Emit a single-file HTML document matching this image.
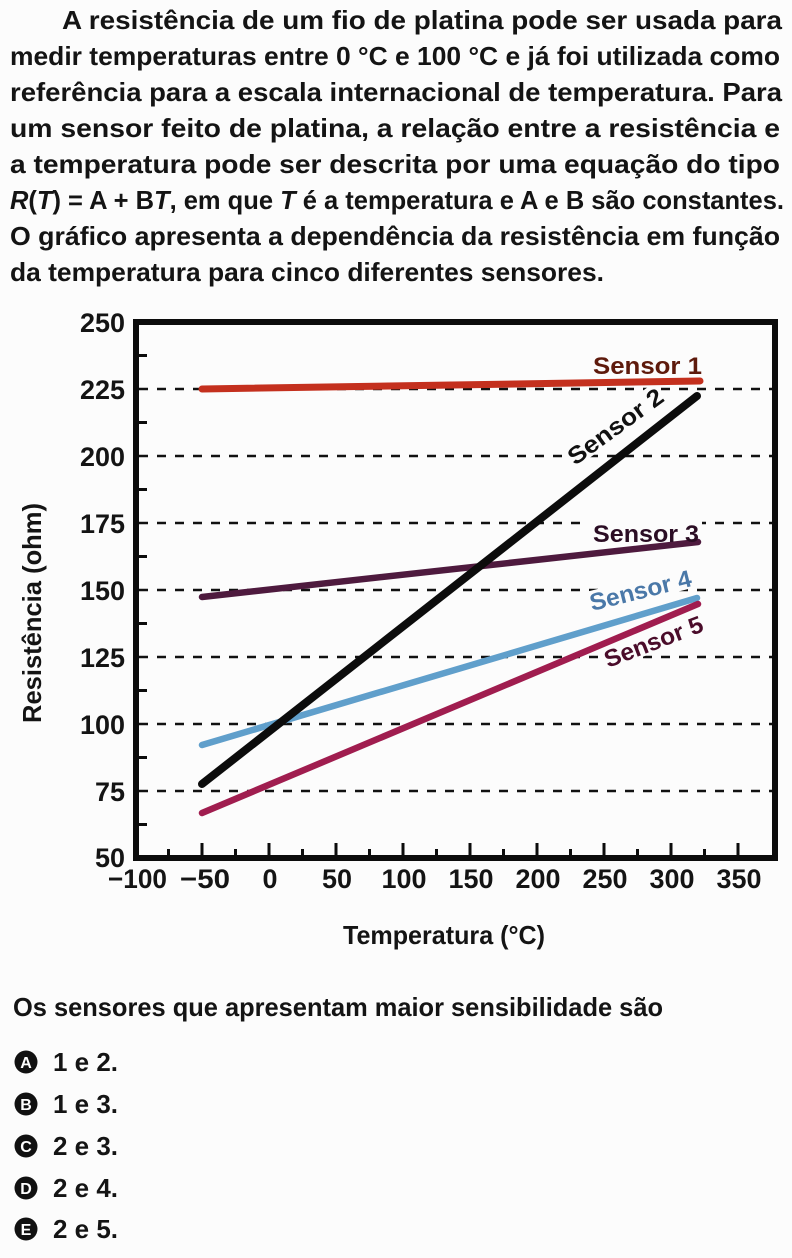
<!DOCTYPE html>
<html><head><meta charset="utf-8"><style>
html,body{margin:0;padding:0;background:#fcfcfc;}
svg{display:block;}
text{font-family:"Liberation Sans",sans-serif;}
</style></head><body>
<svg width="792" height="1258" viewBox="0 0 792 1258" xmlns="http://www.w3.org/2000/svg">
<rect x="0" y="0" width="792" height="1258" fill="#fcfcfc"/>
<g font-weight="bold" font-size="26" fill="#141414">
<text x="62" y="29" textLength="720" lengthAdjust="spacingAndGlyphs">A resistência de um fio de platina pode ser usada para</text>
<text x="10" y="65" textLength="770" lengthAdjust="spacingAndGlyphs">medir temperaturas entre 0 °C e 100 °C e já foi utilizada como</text>
<text x="10" y="101" textLength="772" lengthAdjust="spacingAndGlyphs">referência para a escala internacional de temperatura. Para</text>
<text x="10" y="137" textLength="770" lengthAdjust="spacingAndGlyphs">um sensor feito de platina, a relação entre a resistência e</text>
<text x="10" y="173" textLength="770" lengthAdjust="spacingAndGlyphs">a temperatura pode ser descrita por uma equação do tipo</text>
<text x="10" y="209" textLength="774" lengthAdjust="spacingAndGlyphs"><tspan font-style="italic">R</tspan>(<tspan font-style="italic">T</tspan>) = A + B<tspan font-style="italic">T</tspan>, em que <tspan font-style="italic">T</tspan> é a temperatura e A e B são constantes.</text>
<text x="10" y="245" textLength="770" lengthAdjust="spacingAndGlyphs">O gráfico apresenta a dependência da resistência em função</text>
<text x="10" y="281" textLength="594" lengthAdjust="spacingAndGlyphs">da temperatura para cinco diferentes sensores.</text>
</g>

<!-- gridlines -->
<g stroke="#111" stroke-width="2.6" stroke-dasharray="9 9">
<line x1="139" y1="389" x2="772" y2="389"/>
<line x1="139" y1="456" x2="772" y2="456"/>
<line x1="139" y1="523" x2="772" y2="523"/>
<line x1="139" y1="590" x2="772" y2="590"/>
<line x1="139" y1="657" x2="772" y2="657"/>
<line x1="139" y1="724" x2="772" y2="724"/>
<line x1="139" y1="791" x2="772" y2="791"/>
</g>

<!-- white label boxes -->
<rect x="589" y="520" width="113" height="27" fill="#fcfcfc"/>
<g transform="translate(575,466) rotate(-36)"><rect x="-2" y="-21" width="116" height="23" fill="#fcfcfc"/></g>
<g transform="translate(592,611) rotate(-14)"><rect x="-2" y="-20" width="108" height="22" fill="#fcfcfc"/></g>
<g transform="translate(608,668) rotate(-21)"><rect x="-2" y="-20" width="108" height="22" fill="#fcfcfc"/></g>

<!-- series -->
<g stroke-linecap="round" fill="none">
<line x1="202" y1="389" x2="700" y2="381" stroke="#c4301e" stroke-width="7"/>
<line x1="202" y1="597" x2="698" y2="542" stroke="#4e1a3e" stroke-width="6.5"/>
<line x1="202" y1="745" x2="697" y2="598" stroke="#609fcb" stroke-width="6.5"/>
<line x1="202" y1="813" x2="698" y2="604" stroke="#a01d4f" stroke-width="6.5"/>
<line x1="202" y1="784" x2="697" y2="396" stroke="#0c0c0c" stroke-width="8"/>
</g>

<!-- series labels -->
<g font-weight="bold" font-size="24">
<text x="593" y="374" fill="#5e1a0c" textLength="109" lengthAdjust="spacingAndGlyphs">Sensor 1</text>
<text x="593" y="542" fill="#2b0d24" textLength="106" lengthAdjust="spacingAndGlyphs">Sensor 3</text>
<text transform="translate(575,466) rotate(-36)" fill="#111" textLength="112" lengthAdjust="spacingAndGlyphs">Sensor 2</text>
<text transform="translate(592,611) rotate(-14)" fill="#4a78a8" textLength="104" lengthAdjust="spacingAndGlyphs">Sensor 4</text>
<text transform="translate(608,668) rotate(-21)" fill="#4a0c2a" textLength="104" lengthAdjust="spacingAndGlyphs">Sensor 5</text>
</g>

<!-- axes box -->
<rect x="136" y="322" width="639" height="536" fill="none" stroke="#0c0c0c" stroke-width="6"/>

<!-- y minor ticks -->
<g stroke="#0c0c0c" stroke-width="3">
<line x1="138" y1="355.5" x2="147" y2="355.5"/>
<line x1="138" y1="422.5" x2="147" y2="422.5"/>
<line x1="138" y1="489.5" x2="147" y2="489.5"/>
<line x1="138" y1="556.5" x2="147" y2="556.5"/>
<line x1="138" y1="623.5" x2="147" y2="623.5"/>
<line x1="138" y1="690.5" x2="147" y2="690.5"/>
<line x1="138" y1="757.5" x2="147" y2="757.5"/>
<line x1="138" y1="824.5" x2="147" y2="824.5"/>
</g>
<!-- x ticks -->
<g stroke="#0c0c0c" stroke-width="3">
<line x1="168.5" y1="856" x2="168.5" y2="849"/>
<line x1="202" y1="856" x2="202" y2="843"/>
<line x1="235.5" y1="856" x2="235.5" y2="849"/>
<line x1="269" y1="856" x2="269" y2="843"/>
<line x1="302.5" y1="856" x2="302.5" y2="849"/>
<line x1="336" y1="856" x2="336" y2="843"/>
<line x1="369.5" y1="856" x2="369.5" y2="849"/>
<line x1="403" y1="856" x2="403" y2="843"/>
<line x1="436.5" y1="856" x2="436.5" y2="849"/>
<line x1="470" y1="856" x2="470" y2="843"/>
<line x1="503.5" y1="856" x2="503.5" y2="849"/>
<line x1="537" y1="856" x2="537" y2="843"/>
<line x1="570.5" y1="856" x2="570.5" y2="849"/>
<line x1="604" y1="856" x2="604" y2="843"/>
<line x1="637.5" y1="856" x2="637.5" y2="849"/>
<line x1="671" y1="856" x2="671" y2="843"/>
<line x1="704.5" y1="856" x2="704.5" y2="849"/>
<line x1="738" y1="856" x2="738" y2="843"/>
</g>

<!-- y labels -->
<g font-weight="bold" font-size="27" fill="#141414" text-anchor="end">
<text x="125" y="332" textLength="45" lengthAdjust="spacingAndGlyphs">250</text>
<text x="125" y="399" textLength="45" lengthAdjust="spacingAndGlyphs">225</text>
<text x="125" y="466" textLength="45" lengthAdjust="spacingAndGlyphs">200</text>
<text x="125" y="533" textLength="45" lengthAdjust="spacingAndGlyphs">175</text>
<text x="125" y="600" textLength="45" lengthAdjust="spacingAndGlyphs">150</text>
<text x="125" y="667" textLength="45" lengthAdjust="spacingAndGlyphs">125</text>
<text x="125" y="734" textLength="45" lengthAdjust="spacingAndGlyphs">100</text>
<text x="125" y="801" textLength="30" lengthAdjust="spacingAndGlyphs">75</text>
<text x="125" y="867" textLength="30" lengthAdjust="spacingAndGlyphs">50</text>
</g>
<!-- x labels -->
<g font-weight="bold" font-size="27" fill="#141414" text-anchor="middle">
<text x="137.5" y="888" textLength="59" lengthAdjust="spacingAndGlyphs">−100</text>
<text x="205" y="888" textLength="50" lengthAdjust="spacingAndGlyphs">−50</text>
<text x="270" y="888" textLength="15" lengthAdjust="spacingAndGlyphs">0</text>
<text x="337" y="888" textLength="30" lengthAdjust="spacingAndGlyphs">50</text>
<text x="404" y="888" textLength="45" lengthAdjust="spacingAndGlyphs">100</text>
<text x="471" y="888" textLength="45" lengthAdjust="spacingAndGlyphs">150</text>
<text x="538" y="888" textLength="45" lengthAdjust="spacingAndGlyphs">200</text>
<text x="605" y="888" textLength="45" lengthAdjust="spacingAndGlyphs">250</text>
<text x="672" y="888" textLength="45" lengthAdjust="spacingAndGlyphs">300</text>
<text x="739" y="888" textLength="45" lengthAdjust="spacingAndGlyphs">350</text>
</g>

<!-- axis titles -->
<text x="444" y="944" font-weight="bold" font-size="26" fill="#141414" text-anchor="middle" textLength="202" lengthAdjust="spacingAndGlyphs">Temperatura (°C)</text>
<text transform="translate(41,613) rotate(-90)" font-weight="bold" font-size="26" fill="#141414" text-anchor="middle" textLength="220" lengthAdjust="spacingAndGlyphs">Resistência (ohm)</text>

<!-- question -->
<text x="13" y="1016" font-weight="bold" font-size="26" fill="#141414" textLength="650" lengthAdjust="spacingAndGlyphs">Os sensores que apresentam maior sensibilidade são</text>

<g font-weight="bold">
<circle cx="26" cy="1062" r="11.5" fill="#111"/>
<text x="26" y="1068" font-size="16" fill="#fff" text-anchor="middle">A</text>
<text x="53" y="1071" font-size="26" fill="#141414" textLength="65" lengthAdjust="spacingAndGlyphs">1 e 2.</text>

<circle cx="26" cy="1104" r="11.5" fill="#111"/>
<text x="26" y="1110" font-size="16" fill="#fff" text-anchor="middle">B</text>
<text x="53" y="1113" font-size="26" fill="#141414" textLength="65" lengthAdjust="spacingAndGlyphs">1 e 3.</text>

<circle cx="26" cy="1146" r="11.5" fill="#111"/>
<text x="26" y="1152" font-size="16" fill="#fff" text-anchor="middle">C</text>
<text x="53" y="1155" font-size="26" fill="#141414" textLength="65" lengthAdjust="spacingAndGlyphs">2 e 3.</text>

<circle cx="26" cy="1188" r="11.5" fill="#111"/>
<text x="26" y="1194" font-size="16" fill="#fff" text-anchor="middle">D</text>
<text x="53" y="1197" font-size="26" fill="#141414" textLength="65" lengthAdjust="spacingAndGlyphs">2 e 4.</text>

<circle cx="26" cy="1229" r="11.5" fill="#111"/>
<text x="26" y="1235" font-size="16" fill="#fff" text-anchor="middle">E</text>
<text x="53" y="1238" font-size="26" fill="#141414" textLength="65" lengthAdjust="spacingAndGlyphs">2 e 5.</text>
</g>
</svg>
</body></html>
